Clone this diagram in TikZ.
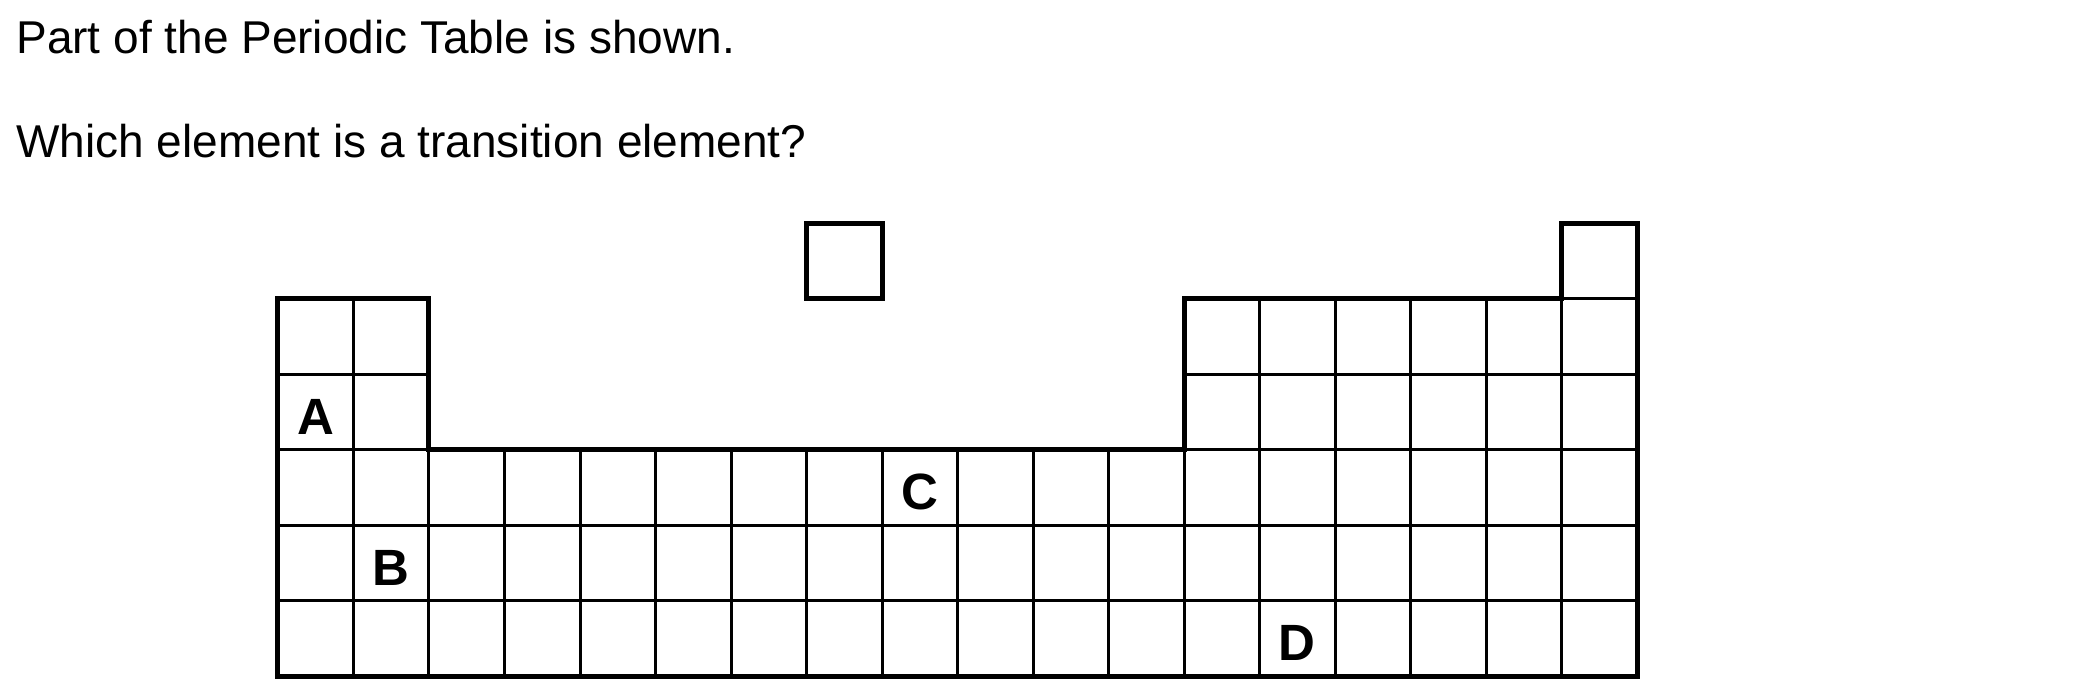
\documentclass[tikz,border=0pt]{standalone}
\usepackage{fontspec}
\setmainfont{Liberation Sans}
\usetikzlibrary{positioning}

\begin{document}
\begin{tikzpicture}[x=37.75pt,y=-37.75pt,font=\fontsize{23pt}{27pt}\selectfont]
    \tikzset{
        cellBox/.style={draw,line width=1.5pt},
        outline/.style={draw,line width=2.5pt,line join=miter},
        elemLabel/.style={font=\fontsize{25.5pt}{30pt}\selectfont\bfseries,inner sep=0pt}
    }
    \path[use as bounding box] (-3.682,-3.960) rectangle (24.132,5.258);
    % question text
    \node[anchor=base west,inner sep=0pt] (intro) at (-3.47,-3.25) {Part of the Periodic Table is shown.};
    \node[anchor=base west,inner sep=0pt] (question) at (-3.47,-1.868) {Which element is a transition element?};
    % periods 4 to 6: all eighteen groups
    \foreach \r in {2,3,4} {
        \foreach \c in {0,...,17} {
            \draw[cellBox] (\c,\r) rectangle ++(1,1);
        }
    }
    % periods 2 and 3: groups 1, 2 and 13 to 18
    \foreach \r in {0,1} {
        \foreach \c in {0,1,12,13,14,15,16,17} {
            \draw[cellBox] (\c,\r) rectangle ++(1,1);
        }
    }
    % period 1
    \draw[cellBox] (17,-1) rectangle (18,0);
    \draw[outline] (7,-1) rectangle (8,0);
    % outer edge
    \draw[outline] (0,0) -- (2,0) -- (2,2) -- (12,2) -- (12,0) -- (17,0) -- (17,-1)
        -- (18,-1) -- (18,5) -- (0,5) -- cycle;
    % letters
    \node[elemLabel] (A) at (0.5,1.56) {A};
    \node[elemLabel] (B) at (1.5,3.56) {B};
    \node[elemLabel] (C) at (8.5,2.56) {C};
    \node[elemLabel] (D) at (13.5,4.55) {D};
\end{tikzpicture}
\end{document}
